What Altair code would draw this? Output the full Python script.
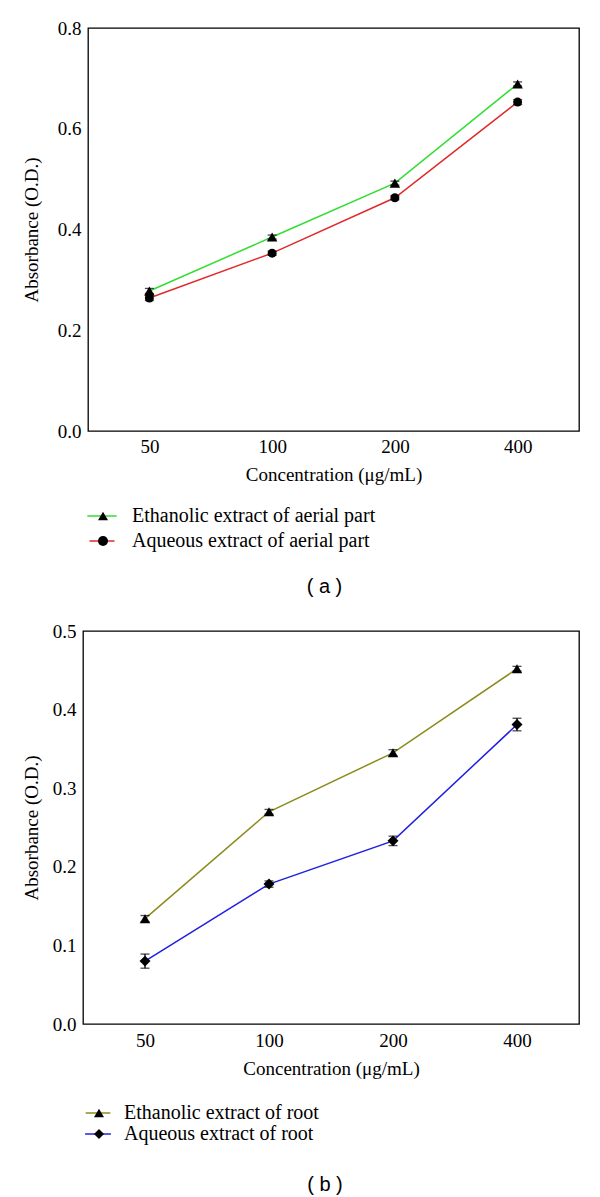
import altair as alt
import pandas as pd

conc = ["50", "100", "200", "400"]

a_series = ["Ethanolic extract of aerial part", "Aqueous extract of aerial part"]
a_eth = [0.278, 0.385, 0.492, 0.689]
a_eth_err = [0.005, 0.004, 0.004, 0.004]
a_aq = [0.264, 0.353, 0.463, 0.653]
a_aq_err = [0.005, 0.004, 0.004, 0.005]
a_colors = ["#33dd33", "#e02a2a"]
a_shapes = ["triangle-up", "circle"]
a_sizes = [110, 80]
a_yticks = [0.0, 0.2, 0.4, 0.6, 0.8]

b_series = ["Ethanolic extract of root", "Aqueous extract of root"]
b_eth = [0.134, 0.270, 0.345, 0.452]
b_eth_err = [0.004, 0.003, 0.004, 0.003]
b_aq = [0.080, 0.178, 0.233, 0.381]
b_aq_err = [0.009, 0.004, 0.006, 0.008]
b_colors = ["#8c8c1c", "#2020e0"]
b_shapes = ["triangle-up", "diamond"]
b_sizes = [110, 120]
b_yticks = [0.0, 0.1, 0.2, 0.3, 0.4, 0.5]

SERIF = "Liberation Serif"


def panel(series, vals, errs, colors, shapes, sizes, yticks, w, h, ytp, xlp,
          caption, cap_off, cap_dx, L, lx, ly, loff, rp):
    rows = []
    for s, v, e in zip(series, vals, errs):
        for i, (c, vv, ee) in enumerate(zip(conc, v, e)):
            rows.append({"conc": c, "idx": i, "series": s, "series2": s,
                         "value": vv, "lo": vv - ee, "hi": vv + ee})
    df = pd.DataFrame(rows)

    x = alt.X("conc:N", sort=conc,
              scale=alt.Scale(type="point", padding=0.5, domain=conc),
              axis=alt.Axis(title="Concentration (μg/mL)", labelAngle=0,
                            ticks=False, domain=False, labelPadding=xlp,
                            titlePadding=9))
    yscale = alt.Scale(domain=[yticks[0], yticks[-1]], nice=False)
    yaxis = alt.Axis(values=yticks, format=".1f", ticks=False, domain=False,
                     grid=False, labelPadding=7, titlePadding=ytp)

    def ych(field):
        return alt.Y(f"{field}:Q", scale=yscale, axis=yaxis,
                     title="Absorbance (O.D.)")

    lines = alt.Chart(df).mark_line(strokeWidth=1.5).encode(
        x=x, y=ych("value"),
        stroke=alt.Stroke("series:N",
                          scale=alt.Scale(domain=series, range=colors),
                          legend=alt.Legend(
                              title=None, orient="none", legendX=lx, legendY=ly,
                              padding=0, symbolSize=144, symbolStrokeWidth=1.5,
                              symbolType=f"M{-L},0H{L}",
                              labelFont=SERIF, labelFontSize=20,
                              labelOpacity=0, labelOffset=loff,
                              rowPadding=rp, labelLimit=500, zindex=1)),
        order=alt.Order("idx:Q"),
    )
    rules = alt.Chart(df).mark_rule(color="black", strokeWidth=1.3).encode(
        x=x, y=ych("lo"), y2="hi:Q")
    caps_lo = alt.Chart(df).mark_tick(color="black", size=9, thickness=1.3,
                                      orient="horizontal").encode(x=x, y=ych("lo"))
    caps_hi = alt.Chart(df).mark_tick(color="black", size=9, thickness=1.3,
                                      orient="horizontal").encode(x=x, y=ych("hi"))
    pts = alt.Chart(df).mark_point(filled=True, opacity=1, color="black").encode(
        x=x, y=ych("value"),
        size=alt.Size("series:N", scale=alt.Scale(domain=series, range=sizes),
                      legend=None),
        shape=alt.Shape("series2:N", sort=series,
                        scale=alt.Scale(range=shapes),
                        legend=alt.Legend(
                            title=None, orient="none", legendX=lx + 1, legendY=ly,
                            padding=0, symbolSize=100, symbolFillColor="black",
                            symbolStrokeColor="black", symbolStrokeWidth=0,
                            labelFont=SERIF, labelFontSize=20,
                            labelColor="black", labelOffset=loff,
                            rowPadding=rp, labelLimit=500, zindex=2)))
    return alt.layer(lines, rules, caps_lo, caps_hi, pts).properties(
        width=w, height=h,
        title=alt.TitleParams(caption, orient="bottom", anchor="middle",
                              frame="group", dx=cap_dx, font="Liberation Sans",
                              fontSize=20, fontWeight="normal", color="black",
                              offset=cap_off))


def spacer():
    return alt.Chart(pd.DataFrame({"a": [0]})).mark_point(opacity=0).encode(
        x=alt.X("a:Q", axis=None), y=alt.Y("a:Q", axis=None)
    ).properties(width=1, height=1, view=alt.ViewBackground(stroke="transparent"))


top = panel(a_series, [a_eth, a_aq], [a_eth_err, a_aq_err], a_colors, a_shapes,
            a_sizes, a_yticks, 491, 403, 16, 6, "( a )", 26, -9,
            2.8, 4, 478, 19, 5)
bottom = panel(b_series, [b_eth, b_aq], [b_eth_err, b_aq_err], b_colors, b_shapes,
               b_sizes, b_yticks, 496, 393, 11, 7, "( b )", 31, -6,
               2.35, 5, 472, 15, 1)

row_a = alt.hconcat(spacer(), top, spacing=0).resolve_scale(
    stroke="independent", shape="independent", size="independent")
row_b = alt.hconcat(spacer(), bottom, spacing=0).resolve_scale(
    stroke="independent", shape="independent", size="independent")

chart = alt.vconcat(row_a, row_b, spacing=23).properties(
    padding={"top": 10, "left": 6, "right": 5, "bottom": 5}
).configure_view(stroke="black", strokeWidth=1.3).configure_axis(
    labelFont=SERIF, labelFontSize=19, labelColor="black",
    titleFont=SERIF, titleFontSize=19, titleColor="black", titleFontWeight="normal"
).resolve_scale(stroke="independent", shape="independent", size="independent")

chart.save("out.html", embed_options={"renderer": "svg", "actions": False})
